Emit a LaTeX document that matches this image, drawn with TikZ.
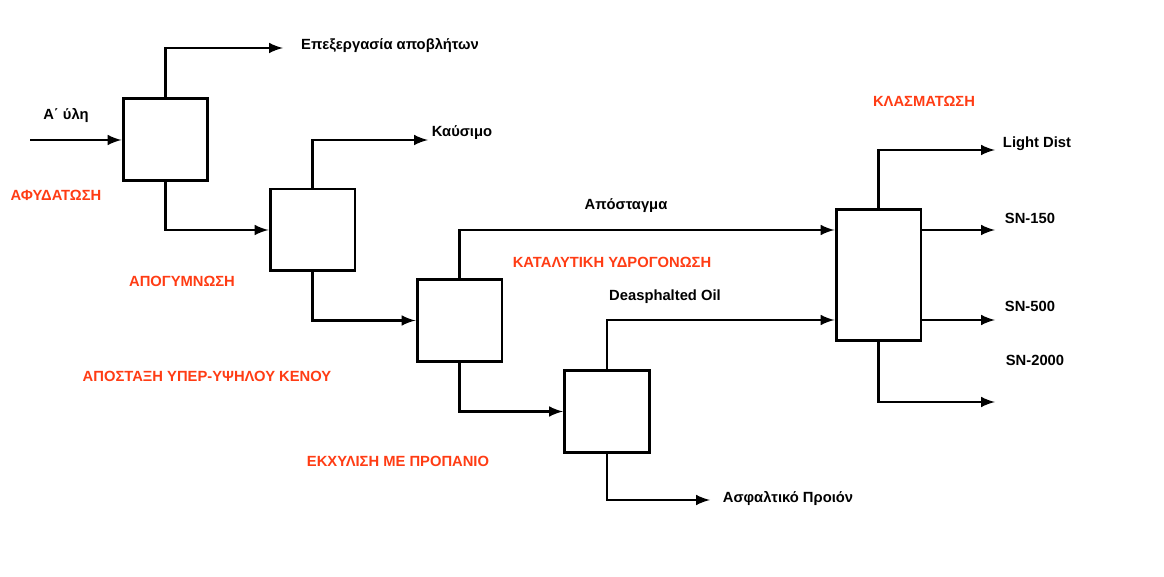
\documentclass[tikz,border=0pt]{standalone}
\usepackage{fontspec}
\setmainfont{Liberation Sans}
\begin{document}
\begin{tikzpicture}[x=0.02cm,y=-0.02cm,
		unit/.style={draw,line width=1.7pt,minimum width=1.7cm,minimum height=1.64cm,inner sep=0pt},
		flow/.style={line width=1.7pt,-latex},
		lbl/.style={font=\bfseries\fontsize{8.4}{10}\selectfont},
		stage/.style={lbl,text=stagered}]
	\definecolor{stagered}{HTML}{FF3C14}
	\useasboundingbox (0,0) rectangle (1164,577);
	% Units
	\node[unit] (dehyd) at (165.5,139.5) {};
	\node[unit] (strip) at (312.5,230) {};
	\node[unit] (vacuum) at (459.5,320.5) {};
	\node[unit] (extr) at (607,411.5) {};
	\node[unit,minimum height=2.64cm] (fract) at (878.5,275) {};
	% Free ends
	\coordinate (feed) at (30,140);
	\coordinate (waste) at (283,48);
	\coordinate (fuel) at (428,140);
	\coordinate (asph) at (710,500);
	\coordinate (light) at (995,150);
	\coordinate (sn150) at (995,230);
	\coordinate (sn500) at (995,320);
	\coordinate (sn2000) at (995,402);
	% Streams
	\draw[flow] (feed) -- (feed -| dehyd.west);
	\draw[flow] (dehyd.north) |- (waste);
	\draw[flow] (dehyd.south) |- (strip.west);
	\draw[flow] (strip.north) |- (fuel);
	\draw[flow] (strip.south) |- (vacuum.west);
	\draw[flow] (vacuum.north) |- (fract.west |- 0,230);
	\draw[flow] (vacuum.south) |- (extr.west);
	\draw[flow] (extr.north) |- (fract.west |- 0,320);
	\draw[flow] (extr.south) |- (asph);
	\draw[flow] (fract.north) |- (light);
	\draw[flow] (fract.east |- sn150) -- (sn150);
	\draw[flow] (fract.east |- sn500) -- (sn500);
	\draw[flow] (fract.south) |- (sn2000);
	% Stream labels
	\node[lbl] (lfeed) at (66,115) {Α΄ ύλη};
	\node[lbl] (lwaste) at (390,45) {Επεξεργασία αποβλήτων};
	\node[lbl] (lfuel) at (462,133) {Καύσιμο};
	\node[lbl] (ldist) at (626,206) {Απόσταγμα};
	\node[lbl] (ldao) at (665,297) {Deasphalted Oil};
	\node[lbl] (lasph) at (788,498) {Ασφαλτικό Προιόν};
	\node[lbl] (llight) at (1037,144) {Light Dist};
	\node[lbl] (l150) at (1030,218) {SN-150};
	\node[lbl] (l500) at (1030,306) {SN-500};
	\node[lbl] (l2000) at (1035,360) {SN-2000};
	% Stage names
	\node[stage] (sdehyd) at (56,195) {ΑΦΥΔΑΤΩΣΗ};
	\node[stage] (sstrip) at (182,281) {ΑΠΟΓΥΜΝΩΣΗ};
	\node[stage] (svac) at (207,376) {ΑΠΟΣΤΑΞΗ ΥΠΕΡ-ΥΨΗΛΟΥ ΚΕΝΟΥ};
	\node[stage] (sextr) at (398,461) {ΕΚΧΥΛΙΣΗ ΜΕ ΠΡΟΠΑΝΙΟ};
	\node[stage] (shydro) at (612,262) {ΚΑΤΑΛΥΤΙΚΗ ΥΔΡΟΓΟΝΩΣΗ};
	\node[stage] (sfract) at (924,101) {ΚΛΑΣΜΑΤΩΣΗ};
\end{tikzpicture}
\end{document}
